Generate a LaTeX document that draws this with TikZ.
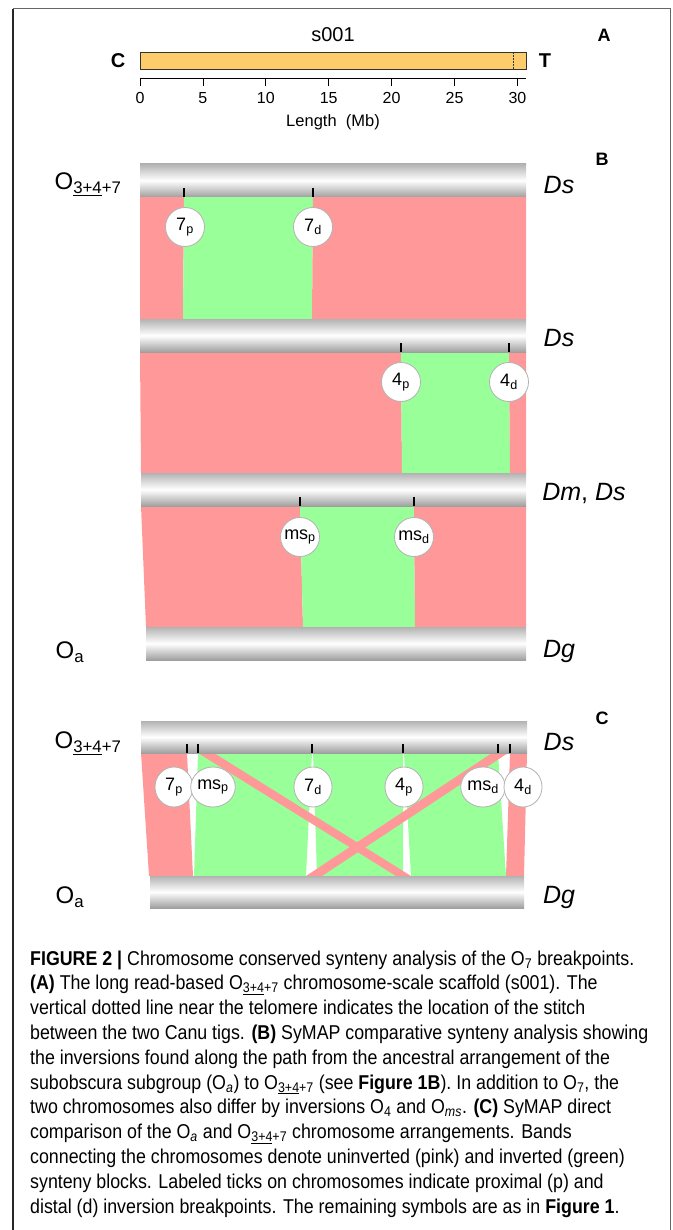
\documentclass[tikz,border=0pt]{standalone}
\usepackage{fontspec}
\setmainfont{Liberation Sans}
\newfontfamily\capfont[FakeStretch=0.89]{Liberation Sans}
\usetikzlibrary{shapes.geometric}
\definecolor{pinkband}{RGB}{255,153,153}
\definecolor{greenband}{RGB}{153,255,153}
\definecolor{orangebar}{RGB}{254,204,106}
\newcommand{\Othree}{O\textsubscript{\underline{3+4}+7}}
\begin{document}
\begin{tikzpicture}[x=1pt,y=-1pt,
  chrom/.style={rectangle, inner sep=0pt, outer sep=0pt, anchor=north west, minimum height=33pt,
    top color=gray!60, bottom color=gray!75, middle color=white},
  brk/.style={line width=1.6pt, black},
  bp/.style={circle, draw=gray!60, line width=0.8pt, fill=white, minimum size=39pt, inner sep=0pt,
    font=\fontsize{18}{19}\selectfont},
  bpc/.style={ellipse, draw=gray!60, line width=0.8pt, fill=white, minimum width=38pt,
    minimum height=40pt, inner sep=0pt, font=\fontsize{18}{19}\selectfont},
  sp/.style={font=\itshape\fontsize{25}{27}\selectfont, inner sep=0pt},
  olab/.style={font=\fontsize{24}{26}\selectfont, inner sep=0pt},
  panel/.style={font=\bfseries\fontsize{18}{20}\selectfont, inner sep=0pt},
  capline/.style={anchor=base west, inner sep=0pt, font=\capfont\fontsize{20}{24}\selectfont},
  tnum/.style={font=\fontsize{16}{18}\selectfont, inner sep=0pt}
]
\useasboundingbox (0,0) rectangle (672,1230);
% frame
\draw[line width=1.3pt, black!85] (13,1230) -- (13,9);
\draw[line width=1pt, black!60] (13,9) -- (670,9) -- (670,1230);

% ---------------- Panel A ----------------
\node[panel] (pA) at (604,35) {A};
\node[font=\fontsize{20}{22}\selectfont, inner sep=0pt] (s001) at (333,35) {s001};
\node[draw=black!80, line width=0.6pt, fill=orangebar, anchor=north west, minimum width=386pt,
  minimum height=17pt, inner sep=0pt] (bar) at (140,52) {};
\node[font=\bfseries\fontsize{20}{22}\selectfont, inner sep=0pt] (cen) at (118,61) {C};
\node[font=\bfseries\fontsize{20}{22}\selectfont, inner sep=0pt] (tel) at (545,61) {T};
\coordinate (st1) at (513,52);
\coordinate (st2) at (513,69);
\draw[line width=0.5pt, black!80, densely dotted] (st1) -- (st2);
\coordinate (ax0) at (140,78);
\coordinate (ax1) at (526,78);
\draw[line width=0.8pt] (ax0) -- (ax1);
\foreach \i [count=\k from 0] in {0,5,10,15,20,25,30} {
  \coordinate (tk\k) at ({140+12.58*\i},78);
  \draw[line width=0.8pt] (tk\k) -- ++(0,8);
  \node[tnum] (n\k) at ({140+12.58*\i},98) {\i};
}
\node[font=\fontsize{16.5}{18}\selectfont, inner sep=0pt] (len) at (333,122) {Length\ \ (Mb)};

% ---------------- Panel B ----------------
\node[panel] (pB) at (602,159) {B};
% bands 1
\fill[pinkband] (140,197) -- (184,197) -- (183,319) -- (140,319) -- cycle;
\fill[greenband] (184,197) -- (313,197) -- (312,319) -- (183,319) -- cycle;
\fill[pinkband] (313,197) -- (526,197) -- (526,319) -- (312,319) -- cycle;
% bands 2
\fill[pinkband] (140,352) -- (401,352) -- (402,473) -- (141,473) -- cycle;
\fill[greenband] (401,352) -- (509,352) -- (510,473) -- (402,473) -- cycle;
\fill[pinkband] (509,352) -- (526,352) -- (526,473) -- (510,473) -- cycle;
% bands 3
\fill[pinkband] (141,506) -- (300,506) -- (303,627) -- (146,627) -- cycle;
\fill[greenband] (300,506) -- (414,506) -- (415,627) -- (303,627) -- cycle;
\fill[pinkband] (414,506) -- (526,506) -- (526,627) -- (415,627) -- cycle;
% chromosomes
\node[chrom, minimum width=386pt] (b1) at (140,164) {};
\node[chrom, minimum width=386pt] (b2) at (140,319) {};
\node[chrom, minimum width=385pt] (b3) at (141,473) {};
\node[chrom, minimum width=380pt] (b4) at (146,627) {};
% ticks
\draw[brk] (184,188) -- (184,197);
\draw[brk] (313,188) -- (313,197);
\draw[brk] (401,343) -- (401,352);
\draw[brk] (509,343) -- (509,352);
\draw[brk] (300,497) -- (300,506);
\draw[brk] (414,497) -- (414,506);
% breakpoint labels
\node[bp] (b7p) at (185,227) {7\textsubscript{p}};
\node[bp] (b7d) at (313,227) {7\textsubscript{d}};
\node[bp] (b4p) at (401,382) {4\textsubscript{p}};
\node[bp] (b4d) at (509,382) {4\textsubscript{d}};
\node[bp] (bmsp) at (300,537) {ms\textsubscript{p}};
\node[bp] (bmsd) at (414,537) {ms\textsubscript{d}};
% species / arrangement labels
\node[olab] (lo1) at (88,184) {\Othree};
\node[olab] (loa) at (70,652) {O\textsubscript{a}};
\node[sp] (ds1) at (559,185) {Ds};
\node[sp] (ds2) at (559,338) {Ds};
\node[sp] (dmds) at (584,493) {Dm\upshape,\itshape\ Ds};
\node[sp] (dg1) at (559,651) {Dg};

% ---------------- Panel C ----------------
\node[panel] (pC) at (602,718) {C};
\fill[pinkband] (141,753) -- (187,753) -- (193,876) -- (149,876) -- cycle;
\fill[greenband] (198,753) -- (312,753) -- (306,876) -- (194,876) -- cycle;
\fill[greenband] (313,753) -- (403,753) -- (403,876) -- (317,876) -- cycle;
\fill[greenband] (404,753) -- (498,753) -- (506,876) -- (411,876) -- cycle;
\fill[pinkband] (510,753) -- (527,753) -- (524,876) -- (506,876) -- cycle;
% crossing pink stripes
\fill[pinkband] (198,753) -- (214,753) -- (411,876) -- (396,876) -- cycle;
\fill[pinkband] (492,753) -- (508,753) -- (322,876) -- (306,876) -- cycle;
% chromosomes
\node[chrom, minimum width=386pt, minimum height=32pt] (c1) at (141,721) {};
\node[chrom, minimum width=374pt, minimum height=32pt] (c2) at (150,876) {};
% ticks
\foreach \x in {187,198,312,403,498,510} {\draw[brk] (\x,744) -- (\x,753);}
% breakpoint labels
\node[bpc] (c7p) at (174,787) {7\textsubscript{p}};
\node[bpc] (cmsp) at (213,787) {ms\textsubscript{p}};
\node[bpc] (c7d) at (313,787) {7\textsubscript{d}};
\node[bpc] (c4p) at (404,787) {4\textsubscript{p}};
\node[bpc] (cmsd) at (483,787) {ms\textsubscript{d}};
\node[bpc] (c4d) at (523,787) {4\textsubscript{d}};
\node[olab] (lo2) at (88,743) {\Othree};
\node[olab] (loa2) at (70,897) {O\textsubscript{a}};
\node[sp] (ds3) at (559,742) {Ds};
\node[sp] (dg2) at (559,897) {Dg};

% ---------------- Caption ----------------
\node[capline] (l1) at (30,965) {\textbf{FIGURE 2 |} Chromosome conserved synteny analysis of the O\textsubscript{7} breakpoints.};
\node[capline] (l2) at (30,989.8) {\textbf{(A)} The long read-based \Othree\ chromosome-scale scaffold (s001). The};
\node[capline] (l3) at (30,1014.6) {vertical dotted line near the telomere indicates the location of the stitch};
\node[capline] (l4) at (30,1039.4) {between the two Canu tigs. \textbf{(B)} SyMAP comparative synteny analysis showing};
\node[capline] (l5) at (30,1064.2) {the inversions found along the path from the ancestral arrangement of the};
\node[capline] (l6) at (30,1089) {subobscura subgroup (O\textsubscript{\itshape a}) to \Othree\ (see \textbf{Figure 1B}). In addition to O\textsubscript{7}, the};
\node[capline] (l7) at (30,1113.8) {two chromosomes also differ by inversions O\textsubscript{4} and O\textsubscript{\itshape ms}. \textbf{(C)} SyMAP direct};
\node[capline] (l8) at (30,1138.6) {comparison of the O\textsubscript{\itshape a} and \Othree\ chromosome arrangements. Bands};
\node[capline] (l9) at (30,1163.4) {connecting the chromosomes denote uninverted (pink) and inverted (green)};
\node[capline] (l10) at (30,1188.2) {synteny blocks. Labeled ticks on chromosomes indicate proximal (p) and};
\node[capline] (l11) at (30,1213) {distal (d) inversion breakpoints. The remaining symbols are as in \textbf{Figure 1}.};
\end{tikzpicture}
\end{document}
